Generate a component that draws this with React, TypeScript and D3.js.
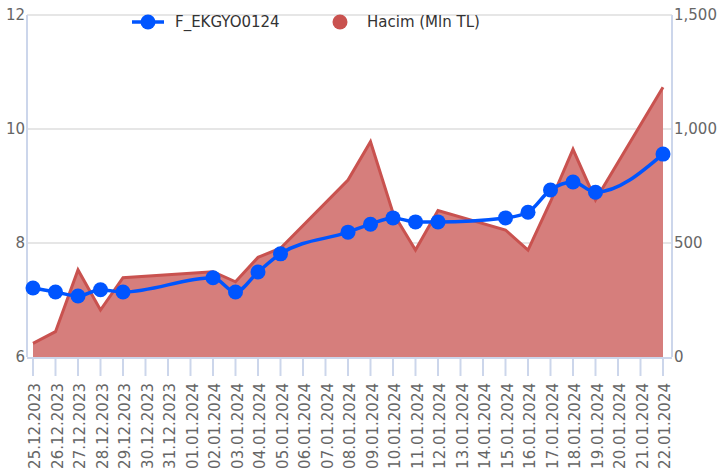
import { useEffect, useRef } from 'react';
import * as d3 from 'd3';

// trading days
const dates = [
  '2023-12-25', '2023-12-26', '2023-12-27', '2023-12-28', '2023-12-29',
  '2024-01-02', '2024-01-03', '2024-01-04', '2024-01-05',
  '2024-01-08', '2024-01-09', '2024-01-10', '2024-01-11', '2024-01-12',
  '2024-01-15', '2024-01-16', '2024-01-17', '2024-01-18', '2024-01-19',
  '2024-01-22',
];
const priceValues = [
  7.21, 7.14, 7.07, 7.18, 7.14,
  7.39, 7.14, 7.49, 7.81,
  8.19, 8.33, 8.44, 8.37, 8.37,
  8.44, 8.54, 8.93, 9.07, 8.89,
  9.56,
];
const volumeValues = [
  60, 111, 382, 206, 348,
  374, 330, 437, 477,
  776, 944, 632, 469, 642,
  557, 469, 681, 911, 689,
  1183,
];
const leftTicks = [6, 8, 10, 12];
const rightTicks = [0, 500, 1000, 1500];
const seriesNames = ['F_EKGYO0124', 'Hacim (Mln TL)'];

const App = () => {
  const svgRef = useRef<SVGSVGElement | null>(null);

  useEffect(() => {
    if (!svgRef.current) return;
    const svg = d3.select(svgRef.current);
    svg.selectAll('*').remove();

    const width = 717;
    const height = 472;
    const plotLeft = 27;
    const plotRight = 672;
    const plotTop = 15;
    const plotBottom = 357;
    const font = '"DejaVu Sans", Verdana, sans-serif';

    svg.attr('width', width).attr('height', height).attr('font-family', font);

    const parse = d3.timeParse('%Y-%m-%d');
    const days = dates.map(d => parse(d) as Date);

    const x = d3.scaleTime()
      .domain([days[0], days[days.length - 1]])
      .range([33, 663]);
    const yLeft = d3.scaleLinear().domain([6, 12]).range([plotBottom, plotTop]);
    const yRight = d3.scaleLinear().domain([0, 1500]).range([plotBottom, plotTop]);

    // gridlines
    svg.append('g')
      .selectAll('line')
      .data(leftTicks.slice(1))
      .join('line')
      .attr('x1', plotLeft)
      .attr('x2', plotRight)
      .attr('y1', d => yLeft(d))
      .attr('y2', d => yLeft(d))
      .attr('stroke', '#e6e6e6')
      .attr('stroke-width', 2);

    // volume area
    const area = d3.area<number>()
      .x((_, i) => x(days[i]))
      .y0(plotBottom)
      .y1(d => yRight(d));
    const line = d3.line<number>()
      .x((_, i) => x(days[i]))
      .y(d => yRight(d));

    svg.append('path')
      .datum(volumeValues)
      .attr('d', area)
      .attr('fill', '#d67e7c');
    svg.append('path')
      .datum(volumeValues)
      .attr('d', line)
      .attr('fill', 'none')
      .attr('stroke', '#c9524f')
      .attr('stroke-width', 3)
      .attr('stroke-linejoin', 'miter');

    // axes lines
    const axisColor = '#ccd6eb';
    svg.append('line')
      .attr('x1', plotLeft).attr('x2', plotLeft)
      .attr('y1', plotTop).attr('y2', plotBottom)
      .attr('stroke', axisColor).attr('stroke-width', 2);
    svg.append('line')
      .attr('x1', plotRight).attr('x2', plotRight)
      .attr('y1', plotTop).attr('y2', plotBottom)
      .attr('stroke', axisColor).attr('stroke-width', 2);
    svg.append('line')
      .attr('x1', plotLeft).attr('x2', plotRight)
      .attr('y1', plotBottom + 1).attr('y2', plotBottom + 1)
      .attr('stroke', axisColor).attr('stroke-width', 2);

    // price spline
    const spline = d3.line<number>()
      .x((_, i) => x(days[i]))
      .y(d => yLeft(d))
      .curve(d3.curveMonotoneX);
    svg.append('path')
      .datum(priceValues)
      .attr('d', spline)
      .attr('fill', 'none')
      .attr('stroke', '#0055ff')
      .attr('stroke-width', 3.5);
    svg.append('g')
      .selectAll('circle')
      .data(priceValues)
      .join('circle')
      .attr('cx', (_, i) => x(days[i]))
      .attr('cy', d => yLeft(d))
      .attr('r', 7.5)
      .attr('fill', '#0055ff');

    // x axis ticks & labels
    const tickDays = d3.timeDay.range(days[0], d3.timeDay.offset(days[days.length - 1], 1));
    const fmt = d3.timeFormat('%d.%m.%Y');
    const xAxis = svg.append('g');
    xAxis.selectAll('line')
      .data(tickDays)
      .join('line')
      .attr('x1', d => x(d)).attr('x2', d => x(d))
      .attr('y1', plotBottom).attr('y2', plotBottom + 19)
      .attr('stroke', axisColor).attr('stroke-width', 2);
    xAxis.selectAll('text')
      .data(tickDays)
      .join('text')
      .attr('transform', d => `translate(${x(d) + 2},383) rotate(-90)`)
      .attr('text-anchor', 'end')
      .attr('dy', '0.35em')
      .attr('font-size', 15)
      .attr('fill', '#666666')
      .text(d => fmt(d));

    // left labels
    svg.append('g')
      .selectAll('text')
      .data(leftTicks)
      .join('text')
      .attr('x', 25)
      .attr('y', d => yLeft(d))
      .attr('dy', '0.35em')
      .attr('text-anchor', 'end')
      .attr('font-size', 15)
      .attr('fill', '#666666')
      .text(d => d);

    // right labels
    svg.append('g')
      .selectAll('text')
      .data(rightTicks)
      .join('text')
      .attr('x', 674)
      .attr('y', d => yRight(d))
      .attr('dy', '0.35em')
      .attr('font-size', 15)
      .attr('fill', '#666666')
      .text(d => d3.format(',')(d));

    // legend
    const legend = svg.append('g').attr('font-size', 15).attr('fill', '#333333');
    legend.append('line')
      .attr('x1', 132).attr('x2', 164).attr('y1', 22).attr('y2', 22)
      .attr('stroke', '#0055ff').attr('stroke-width', 3.5);
    legend.append('circle')
      .attr('cx', 148).attr('cy', 22).attr('r', 7.5).attr('fill', '#0055ff');
    legend.append('text')
      .attr('x', 175).attr('y', 22).attr('dy', '0.35em')
      .text(seriesNames[0]);
    legend.append('circle')
      .attr('cx', 340).attr('cy', 22).attr('r', 7.5).attr('fill', '#c9524f');
    legend.append('text')
      .attr('x', 367).attr('y', 22).attr('dy', '0.35em')
      .text(seriesNames[1]);
  }, []);

  return (
    <svg
      ref={svgRef}
      style={{ position: 'absolute', left: 0, top: 0, background: '#ffffff' }}
    />
  );
};

export default App;
